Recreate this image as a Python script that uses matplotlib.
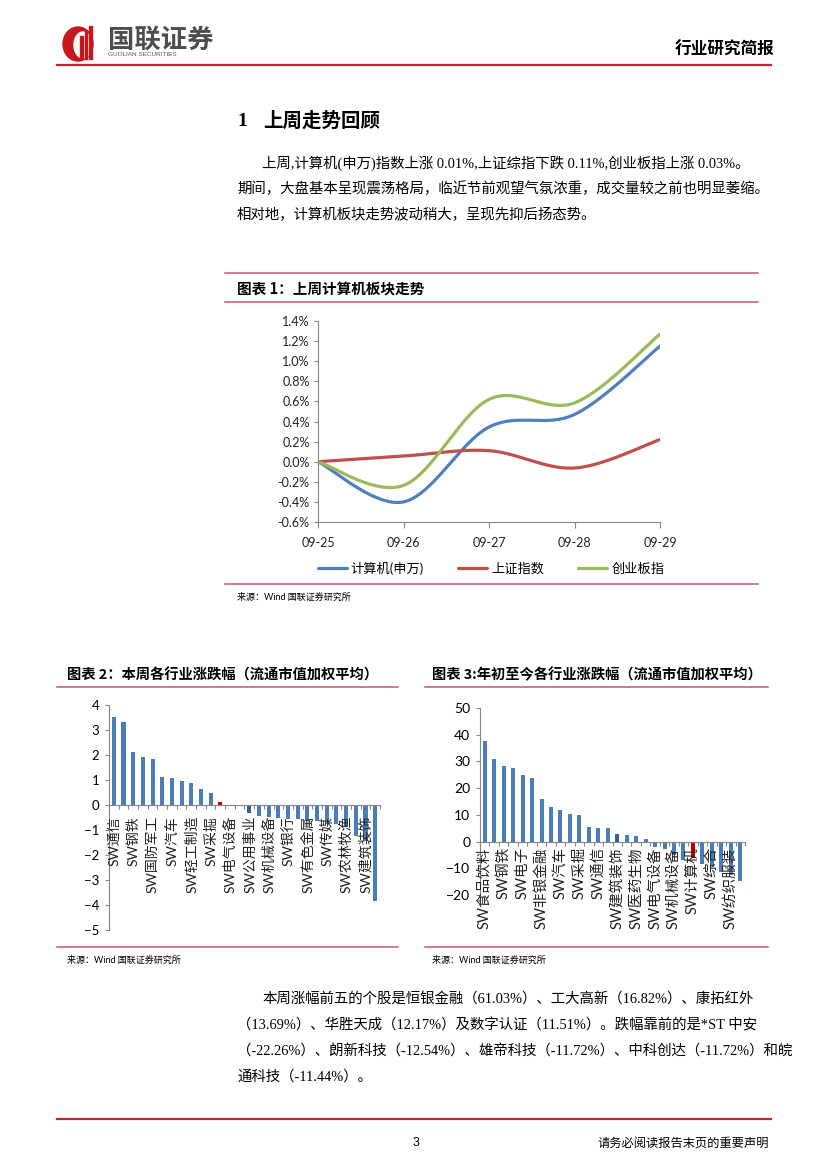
import numpy as np
import matplotlib
matplotlib.use("Agg")
import matplotlib.pyplot as plt
from matplotlib.patches import Ellipse, Rectangle

plt.rcParams['font.family'] = ['Noto Sans CJK SC', 'DejaVu Sans']

W, H = 827, 1169

# chart 1: last week trend (%)
dates = ['09-25', '09-26', '09-27', '09-28', '09-29']
computer = [0.0, -0.40, 0.345, 0.47, 1.15]
shanghai = [0.0, 0.056, 0.11, -0.063, 0.22]
chinext = [0.0, -0.236, 0.62, 0.585, 1.27]
series_names = ['计算机(申万)', '上证指数', '创业板指']

# chart 2: weekly change by industry (%)
names2 = ['SW通信', 'SW电子', 'SW钢铁', 'SW化工', 'SW国防军工', 'SW家用电器', 'SW汽车',
          'SW食品饮料', 'SW轻工制造', 'SW纺织服装', 'SW采掘', 'SW计算机', 'SW电气设备',
          'SW医药生物', 'SW公用事业', 'SW交通运输', 'SW机械设备', 'SW房地产', 'SW银行',
          'SW商业贸易', 'SW有色金属', 'SW休闲服务', 'SW传媒', 'SW综合', 'SW农林牧渔',
          'SW建筑材料', 'SW建筑装饰', 'SW非银金融']
values2 = [3.53, 3.31, 2.11, 1.93, 1.84, 1.11, 1.08, 0.95, 0.88, 0.64, 0.47, 0.11, 0.02,
           0.01, -0.31, -0.44, -0.46, -0.52, -0.54, -0.57, -0.64, -0.63, -0.67, -0.74,
           -0.88, -1.23, -1.45, -3.83]

# chart 3: year-to-date change by industry (%)
names3 = ['SW食品饮料', 'SW家用电器', 'SW钢铁', 'SW有色金属', 'SW电子', 'SW建筑材料',
          'SW非银金融', 'SW化工', 'SW汽车', 'SW银行', 'SW采掘', 'SW休闲服务', 'SW通信',
          'SW国防军工', 'SW建筑装饰', 'SW农林牧渔', 'SW医药生物', 'SW房地产', 'SW电气设备',
          'SW交通运输', 'SW机械设备', 'SW商业贸易', 'SW计算机', 'SW轻工制造', 'SW综合',
          'SW公用事业', 'SW纺织服装', 'SW传媒']
values3 = [37.7, 31.0, 28.3, 27.6, 24.9, 23.9, 16.1, 13.1, 11.9, 10.2, 9.9, 5.5, 4.9, 4.9,
           3.0, 2.4, 1.9, 0.9, -2.1, -2.6, -5.0, -7.0, -6.3, -8.4, -9.5, -11.4, -12.5, -14.7]

para1 = ['上周,计算机(申万)指数上涨 0.01%,上证综指下跌 0.11%,创业板指上涨 0.03%。',
         '期间，大盘基本呈现震荡格局，临近节前观望气氛浓重，成交量较之前也明显萎缩。',
         '相对地，计算机板块走势波动稍大，呈现先抑后扬态势。']
para2 = ['本周涨幅前五的个股是恒银金融（61.03%）、工大高新（16.82%）、康拓红外',
         '（13.69%）、华胜天成（12.17%）及数字认证（11.51%）。跌幅靠前的是*ST 中安',
         '（-22.26%）、朗新科技（-12.54%）、雄帝科技（-11.72%）、中科创达（-11.72%）和皖',
         '通科技（-11.44%）。']

RED = '#C0282D'
PINK = '#C9566E'
BLUE = '#4A7EBB'
serif = ['Liberation Serif', 'Noto Sans CJK SC']
chartfont = ['Lato', 'Noto Sans CJK SC']

fig = plt.figure(figsize=(W / 100, H / 100), dpi=100)
page = fig.add_axes([0, 0, 1, 1])
page.set_xlim(0, W)
page.set_ylim(H, 0)
page.axis('off')

# header
page.add_patch(Ellipse((78, 44), 30, 34, color='#C8161D'))
page.add_patch(Ellipse((83, 45), 18, 26, color='white'))
for x0, top in [(80, 36), (84.5, 31), (89, 26)]:
    page.add_patch(Rectangle((x0, top), 2.6, 59 - top, color='#C8161D'))
page.text(108, 40, '国联证券', fontsize=19, fontweight='bold', color='#4D4D4D',
          va='center', ha='left')
page.text(108, 54.5, 'GUOLIAN SECURITIES', fontsize=4.6, color='#555555',
          family='Liberation Sans', va='center', ha='left')
page.text(774, 50, '行业研究简报', fontsize=12, fontweight='bold', ha='right', va='center')
page.plot([57, 771], [65, 65], color=RED, lw=1.6)

# section heading and paragraph
page.text(237, 121, '1', fontsize=14, fontweight='bold', va='center', family=serif)
page.text(263, 121, '上周走势回顾', fontsize=14, fontweight='bold', va='center')
for i, line in enumerate(para1):
    page.text(262 if i == 0 else 237, 163 + i * 26, line, fontsize=10.4,
              va='center', family=serif)

# chart 1 frame
page.plot([225, 758], [273, 273], color=PINK, lw=1.1)
page.text(237, 288, '图表 1：上周计算机板块走势', fontsize=10.5, fontweight='bold', va='center')
page.plot([225, 758], [302, 302], color=PINK, lw=1.1)
page.plot([225, 758], [584, 584], color=PINK, lw=1.1)
page.text(237, 597, '来源：Wind 国联证券研究所', fontsize=6.5, va='center', family=chartfont)

# chart 2/3 frames
page.text(67, 675, '图表 2：本周各行业涨跌幅（流通市值加权平均）', fontsize=10.3,
          fontweight='bold', va='center')
page.text(432, 675, '图表 3:年初至今各行业涨跌幅（流通市值加权平均）', fontsize=10.3,
          fontweight='bold', va='center')
for x0, x1 in [(57, 398), (425, 768)]:
    page.plot([x0, x1], [687, 687], color=PINK, lw=1.1)
    page.plot([x0, x1], [947, 947], color=PINK, lw=1.1)
page.text(67, 960, '来源：Wind 国联证券研究所', fontsize=6.5, va='center', family=chartfont)
page.text(432, 960, '来源：Wind 国联证券研究所', fontsize=6.5, va='center', family=chartfont)

for i, line in enumerate(para2):
    page.text(262 if i == 0 else 237, 999 + i * 26, line, fontsize=10.4,
              va='center', family=serif)

# footer
page.plot([57, 771], [1119, 1119], color=RED, lw=1.6)
page.text(416, 1143, '3', fontsize=9, va='center', ha='center', family='Liberation Sans')
page.text(769, 1143, '请务必阅读报告末页的重要声明', fontsize=8.8, va='center', ha='right')


def px_axes(x0, y0, x1, y1):
    return fig.add_axes([x0 / W, 1 - y1 / H, (x1 - x0) / W, (y1 - y0) / H])


def smooth(y, n=40):
    # Excel style smoothed line: cubic Bezier through the points
    p = np.column_stack([np.arange(len(y)), y]).astype(float)
    ext = np.vstack([p[0], p, p[-1]])
    out = []
    t = np.linspace(0, 1, n)[:, None]
    for i in range(len(p) - 1):
        p0, p3 = ext[i + 1], ext[i + 2]
        c1 = p0 + (ext[i + 2] - ext[i]) / 6
        c2 = p3 - (ext[i + 3] - ext[i + 1]) / 6
        seg = (1 - t) ** 3 * p0 + 3 * (1 - t) ** 2 * t * c1 + 3 * (1 - t) * t ** 2 * c2 + t ** 3 * p3
        out.append(seg)
    out = np.vstack(out)
    return out[:, 0], out[:, 1]


# chart 1
ax1 = px_axes(318, 321, 660, 522)
lines = []
for vals, col, name in zip([computer, shanghai, chinext], ['#4F81BD', '#C0504D', '#9BBB59'],
                           series_names):
    xs, ys = smooth(vals)
    ln, = ax1.plot(xs, ys, color=col, lw=2.3, label=name, solid_capstyle='round')
    lines.append(ln)
ax1.set_xlim(0, len(dates) - 1)
ax1.set_ylim(-0.6, 1.4)
ax1.set_yticks(np.arange(-0.6, 1.41, 0.2))
ax1.set_yticklabels([f'{v:.1f}%' for v in np.arange(-0.6, 1.41, 0.2)])
ax1.set_xticks(range(len(dates)))
ax1.set_xticklabels(dates)
for s in ['top', 'right']:
    ax1.spines[s].set_visible(False)
for s in ['left', 'bottom']:
    ax1.spines[s].set_color('#868686')
    ax1.spines[s].set_linewidth(0.8)
ax1.tick_params(axis='y', length=3, width=0.8, color='#868686', pad=3, labelsize=9)
ax1.tick_params(axis='x', length=4, width=0.8, color='#868686', pad=7, labelsize=9)
for lab in ax1.get_xticklabels() + ax1.get_yticklabels():
    lab.set_family(chartfont)
    lab.set_color('#222222')
leg = fig.legend(handles=lines, loc='center', bbox_to_anchor=(491 / W, 1 - 568 / H), ncol=3,
                 frameon=False, handlelength=2.2, columnspacing=2.6, handletextpad=0.3,
                 prop={'family': chartfont, 'size': 9.5})


def bar_chart(ax, names, values, ylim, yticks, red_name, dark_idx, label_pad, tick_size,
              label_size):
    x = np.arange(len(names))
    colors = [BLUE] * len(names)
    colors[dark_idx] = '#2E62A8'
    colors[names.index(red_name)] = '#C00000'
    ax.bar(x, values, width=0.42, color=colors)
    ax.set_xlim(-0.5, len(names) - 0.5)
    ax.set_ylim(*ylim)
    ax.set_yticks(yticks)
    ax.spines['top'].set_visible(False)
    ax.spines['right'].set_visible(False)
    ax.spines['bottom'].set_position(('data', 0))
    for s in ['left', 'bottom']:
        ax.spines[s].set_color('#868686')
        ax.spines[s].set_linewidth(0.8)
    ax.set_xticks(np.arange(-0.5, len(names), 1))
    ax.set_xticklabels([])
    ax.tick_params(axis='x', length=3, width=0.8, color='#868686', direction='out')
    ax.tick_params(axis='y', length=3, width=0.8, color='#868686', labelsize=tick_size, pad=4)
    for lab in ax.get_yticklabels():
        lab.set_family(chartfont)
    for i in range(0, len(names), 2):
        ax.annotate(names[i], xy=(i, 0), xytext=(0, -label_pad), textcoords='offset points',
                    rotation=90, ha='center', va='top', fontsize=label_size,
                    family=chartfont, color='#222222')


ax2 = px_axes(109, 705, 380, 930)
bar_chart(ax2, names2, values2, (-5, 4), range(-5, 5), 'SW计算机', 14, 8, 9.5, 10)

ax3 = px_axes(480, 708, 745, 895)
bar_chart(ax3, names3, values3, (-20, 50), range(-20, 51, 10), 'SW计算机', 14, 4, 10, 10.5)

fig.savefig('out.png', dpi=100)
